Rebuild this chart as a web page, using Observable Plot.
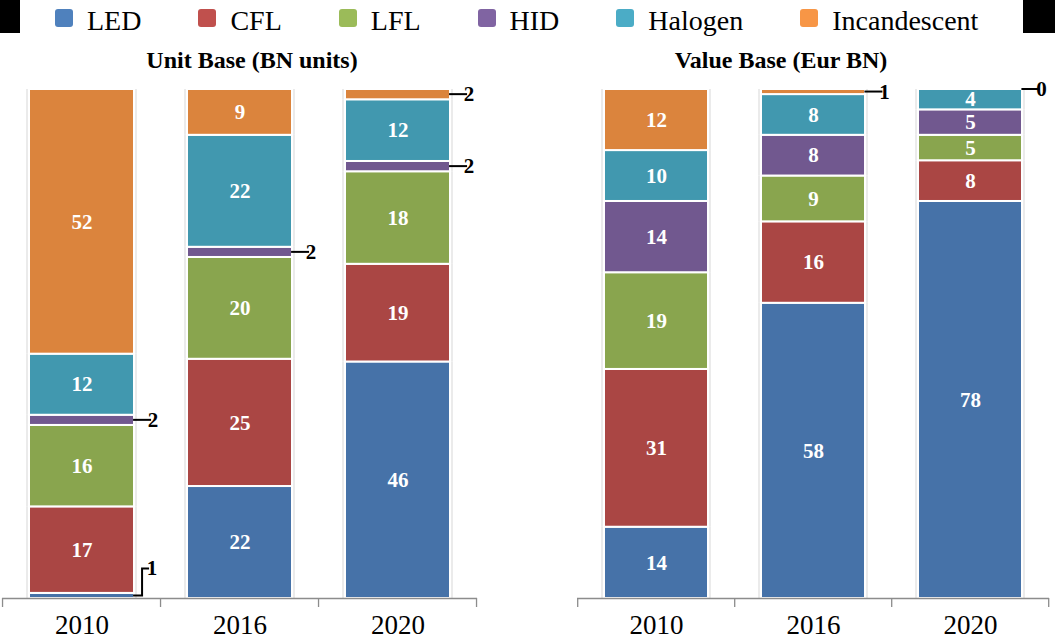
<!DOCTYPE html>
<html><head><meta charset="utf-8">
<script src="https://cdn.jsdelivr.net/npm/d3@7"></script>
<script src="https://cdn.jsdelivr.net/npm/@observablehq/plot@0.6"></script>
<style>
body{margin:0;background:#fff;}
#root{position:relative;width:1055px;height:640px;overflow:hidden;font-family:"Liberation Serif","Times New Roman",serif;color:#000;}
.blk{position:absolute;top:0;height:33px;background:#000;}
#legend{position:absolute;left:55px;top:7px;display:flex;align-items:flex-start;}
.item{display:flex;align-items:flex-start;margin-right:57px;}
.sw{width:18px;height:18px;border-radius:3px;margin-top:2px;margin-right:14px;}
.lt{font-size:28px;line-height:28px;}
.title{position:absolute;top:48px;font-size:24px;line-height:24px;font-weight:bold;transform:translateX(-50%);white-space:nowrap;}
.panel{position:absolute;top:80px;}
</style></head><body><div id="root"></div>
<script>
const years = ["2010", "2016", "2020"];
const types = ["LED", "CFL", "LFL", "HID", "Halogen", "Incandescent"];
// Unit Base (BN units), values per year in type order
const unit2010 = [1, 17, 16, 2, 12, 52];
const unit2016 = [22, 25, 20, 2, 22, 9];
const unit2020 = [46, 19, 18, 2, 12, 2];
// Value Base (Eur BN)
const value2010 = [14, 31, 19, 14, 10, 12];
const value2016 = [58, 16, 9, 8, 8, 1];
const value2020 = [78, 8, 5, 5, 4, 0];
const barColors = ["#4672a8", "#aa4644", "#89a54e", "#71588f", "#4198af", "#db843d"];
const legendColors = ["#4f81bd", "#c0504d", "#9bbb59", "#8064a2", "#4bacc6", "#f79646"];
const panelTitles = ["Unit Base (BN units)", "Value Base (Eur BN)"];

const FONT = '"Liberation Serif","Times New Roman",serif';
const PAD = 0.335;

function build(rowsByYear) {
  const out = [];
  rowsByYear.forEach((vals, i) => {
    const total = d3.sum(vals);
    let cum = 0;
    vals.forEach((v, j) => {
      const y1 = cum / total, y2 = (cum + v) / total;
      out.push({year: years[i], type: types[j], order: j, value: v, y1, y2, mid: (y1 + y2) / 2});
      cum += v;
    });
  });
  return out;
}

function panel(rowsByYear, marginRight) {
  const data = build(rowsByYear);
  const inside = data.filter(d => d.value > 2);
  const leaders = data.filter(d => d.value <= 2);
  return Plot.plot({
    width: 480, height: 560,
    marginLeft: 2, marginRight, marginTop: 9, marginBottom: 42,
    x: {domain: years, paddingInner: PAD, paddingOuter: PAD / 2, label: null},
    y: {domain: [0, 1], axis: null},
    color: {domain: types, range: barColors},
    style: {fontFamily: FONT, background: "transparent", overflow: "visible", color: "#000"},
    marks: [
      Plot.barY(data, {x: "year", y1: "y1", y2: "y2", fill: "#ebebeb", insetLeft: -3, insetRight: -3}),
      Plot.barY(data, {x: "year", y1: "y1", y2: "y2", fill: "type", stroke: "white", strokeWidth: 2}),
      Plot.text(inside, {x: "year", y: "mid", text: d => String(d.value), fill: "white", fontWeight: "bold", fontSize: 21}),
      Plot.ruleY([0], {stroke: "#8c8c8c", strokeWidth: 1.3}),
      Plot.axisX({tickSize: 0, tickPadding: 16, fontSize: 27, label: null}),
      (index, scales) => {
        const {x, y} = scales;
        const step = x(years[1]) - x(years[0]);
        const bw = step * (1 - PAD);
        const g = d3.create("svg:g");
        const y0 = y(0);
        const bounds = years.map(yr => x(yr) - (step - bw) / 2);
        bounds.push(x(years[years.length - 1]) + bw + (step - bw) / 2);
        bounds.forEach(bx => g.append("line").attr("x1", bx).attr("x2", bx).attr("y1", y0).attr("y2", y0 + 9)
          .attr("stroke", "#8c8c8c").attr("stroke-width", 1.3));
        leaders.forEach(d => {
          const xr = x(d.year) + bw;
          const ym = y(d.mid);
          let ty = ym, tx;
          if (d.order === 0) {
            g.append("path").attr("d", `M${xr - 1},${ym}H${xr + 8}V${ym - 27}H${xr + 15}`)
              .attr("fill", "none").attr("stroke", "#000").attr("stroke-width", 2);
            ty = ym - 28; tx = xr + 18;
          } else {
            g.append("line").attr("x1", xr - 1).attr("x2", xr + 17).attr("y1", ym).attr("y2", ym)
              .attr("stroke", "#000").attr("stroke-width", 2);
            tx = xr + 19;
          }
          g.append("text").attr("x", tx).attr("y", ty).attr("dy", "0.35em")
            .attr("font-size", 21).attr("font-weight", "bold").attr("font-family", FONT)
            .attr("fill", "#000").text(String(d.value));
        });
        return g.node();
      }
    ]
  });
}

const root = document.getElementById("root");
root.insertAdjacentHTML("beforeend", '<div class="blk" style="left:0;width:20px"></div><div class="blk" style="left:1023px;width:32px"></div>');
const legend = document.createElement("div");
legend.id = "legend";
types.forEach((t, i) => {
  const it = document.createElement("div");
  it.className = "item";
  it.innerHTML = `<div class="sw" style="background:${legendColors[i]}"></div><div class="lt">${t}</div>`;
  legend.appendChild(it);
});
root.appendChild(legend);

[[252, 0], [781, 1]].forEach(([cx, i]) => {
  const t = document.createElement("div");
  t.className = "title";
  t.style.left = cx + "px";
  t.textContent = panelTitles[i];
  root.appendChild(t);
});

const p1 = panel([unit2010, unit2016, unit2020], 3);
p1.classList.add("panel"); p1.style.left = "0px";
root.appendChild(p1);
const p2 = panel([value2010, value2016, value2020], 6);
p2.classList.add("panel"); p2.style.left = "575px";
root.appendChild(p2);
</script></body></html>
